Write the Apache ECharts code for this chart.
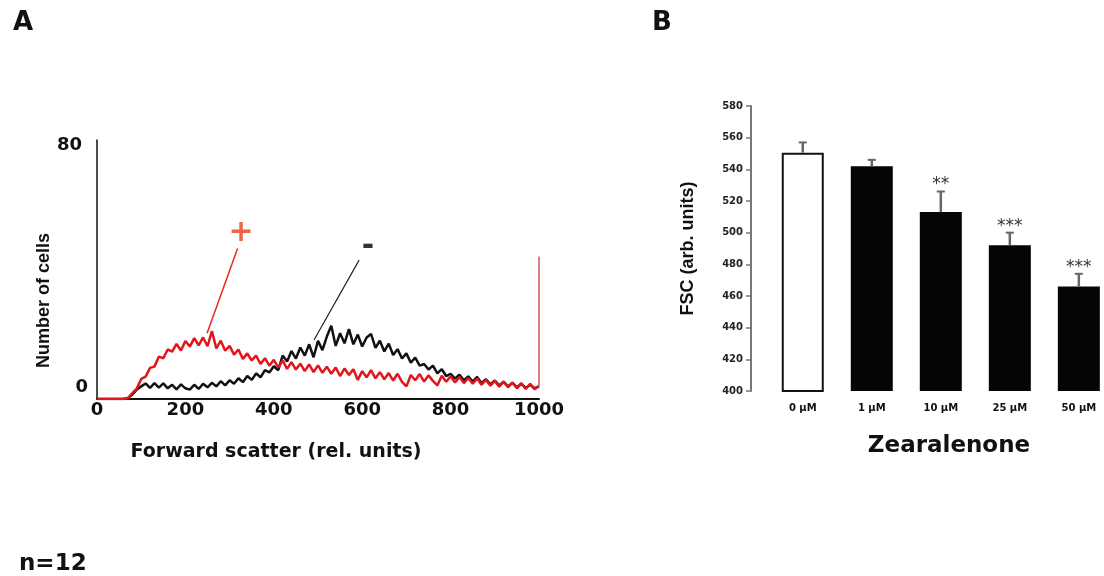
<!DOCTYPE html>
<html>
<head>
<meta charset="utf-8">
<script src="https://cdn.jsdelivr.net/npm/echarts@6/dist/echarts.min.js"></script>
<style>
  html, body { margin: 0; padding: 0; background: #fff; }
  #chart { width: 1104px; height: 576px; }
</style>
</head>
<body>
<div id="chart"></div>
<script>
// panel A: FSC histograms, channel step 10
var fscChannels = [
  0, 10, 20, 30, 40, 50, 60, 70, 80, 90,
  100, 110, 120, 130, 140, 150, 160, 170, 180, 190,
  200, 210, 220, 230, 240, 250, 260, 270, 280, 290,
  300, 310, 320, 330, 340, 350, 360, 370, 380, 390,
  400, 410, 420, 430, 440, 450, 460, 470, 480, 490,
  500, 510, 520, 530, 540, 550, 560, 570, 580, 590,
  600, 610, 620, 630, 640, 650, 660, 670, 680, 690,
  700, 710, 720, 730, 740, 750, 760, 770, 780, 790,
  800, 810, 820, 830, 840, 850, 860, 870, 880, 890,
  900, 910, 920, 930, 940, 950, 960, 970, 980, 990,
  1000
];
// untreated (-)
var cellsControl = [
  0, 0, 0, 0, 0, 0, 0, 0.3, 1.4, 2.9,
  3.9, 4.8, 3.4, 4.9, 3.5, 4.8, 3.3, 4.4, 3.0, 4.5,
  3.3, 2.9, 4.4, 3.1, 4.7, 3.6, 5.0, 3.9, 5.5, 4.2,
  5.8, 4.7, 6.4, 5.2, 7.1, 5.9, 7.9, 6.7, 8.9, 8.2,
  10.1, 8.9, 13.4, 11.6, 14.8, 12.5, 15.9, 13.4, 16.9, 12.9,
  18.0, 15.1, 19.3, 22.6, 16.4, 20.3, 17.2, 21.6, 16.9, 19.9,
  16.2, 19.0, 20.1, 15.8, 18.0, 14.7, 17.1, 13.6, 15.4, 12.5,
  14.1, 11.2, 12.8, 10.3, 10.8, 9.1, 10.3, 7.9, 9.2, 7.1,
  7.8, 6.3, 7.5, 5.8, 7.0, 5.4, 6.8, 4.9, 6.1, 4.5,
  5.7, 4.2, 5.3, 3.9, 5.0, 3.6, 4.7, 3.4, 4.4, 3.3,
  3.9
];
// zearalenone treated (+)
var cellsTreated = [
  0, 0, 0, 0, 0, 0, 0, 0.3, 1.8, 3.2,
  6.2, 6.9, 9.6, 10.0, 13.1, 12.6, 15.3, 14.6, 17.0, 15.0,
  17.9, 16.2, 18.8, 16.6, 19.0, 16.3, 21.0, 15.6, 18.0, 14.9,
  16.4, 13.7, 15.3, 12.4, 14.1, 11.9, 13.4, 10.8, 12.6, 10.3,
  12.1, 9.7, 11.9, 9.3, 11.4, 9.1, 10.9, 8.6, 10.7, 8.3,
  10.4, 8.1, 10.0, 7.8, 9.7, 7.1, 9.4, 7.4, 9.2, 5.9,
  8.6, 6.7, 8.9, 6.4, 8.3, 6.1, 8.0, 5.7, 7.8, 5.3,
  3.9, 7.4, 5.8, 7.7, 5.4, 7.3, 5.6, 4.2, 7.2, 5.3,
  7.0, 5.1, 6.8, 4.9, 6.5, 4.7, 6.3, 4.4, 5.9, 4.1,
  5.6, 3.8, 5.4, 3.6, 5.1, 3.3, 4.9, 3.1, 4.7, 3.0,
  4.0
];
var gateLine = [[1000, 4.0], [1000, 44]];
var plusPointer = [[249, 20.3], [318, 46.5]];
var minusPointer = [[491, 18.2], [593, 42.9]];
var plusMark = [326, 51.2];
var minusMark = [613, 47];
var histTicks = [0, 80];

// panel B: mean FSC
var concentrations = ['0 \u00b5M', '1 \u00b5M', '10 \u00b5M', '25 \u00b5M', '50 \u00b5M'];
var fscMean = [550.5, 542, 513, 492, 466];
var fscSem = [6.5, 4, 13, 8, 8];
var significance = ['', '', '**', '***', '***'];
var barSlots = [0, 1, 2, 3, 4];

var chart = echarts.init(document.getElementById('chart'));

function pairs(xs, ys) {
  return xs.map(function (x, i) { return [x, ys[i]]; });
}

var bold = 'DejaVu Sans';

chart.setOption({
  backgroundColor: '#fff',
  animation: false,
  title: [
    { text: 'A', left: 8, top: 5, textStyle: { fontFamily: bold, fontWeight: 'bold', fontSize: 26, color: '#111' } },
    { text: 'B', left: 647, top: 5, textStyle: { fontFamily: bold, fontWeight: 'bold', fontSize: 26, color: '#111' } },
    { text: 'n=12', left: 14, top: 548, textStyle: { fontFamily: bold, fontWeight: 'bold', fontSize: 23, color: '#111' } }
  ],
  grid: [
    { left: 97, top: 140, width: 442, height: 259 },
    { left: 751, top: 106, width: 352, height: 285 }
  ],
  xAxis: [
    {
      gridIndex: 0, type: 'value', min: 0, max: 1000, interval: 200,
      name: 'Forward scatter (rel. units)', nameLocation: 'middle', nameGap: 44,
      nameTextStyle: { fontFamily: bold, fontWeight: 'bold', fontSize: 19, color: '#111', padding: [0, 84, 0, 0] },
      axisLine: { lineStyle: { color: '#111', width: 2 } },
      axisTick: { show: false },
      splitLine: { show: false },
      axisLabel: {
        margin: 2, fontFamily: bold, fontWeight: 'bold', fontSize: 18, color: '#111',
        formatter: function (v) { return String(v); }
      }
    },
    {
      gridIndex: 1, type: 'value', min: -0.75, max: 4.35,
      name: 'Zearalenone', nameLocation: 'middle', nameGap: 44,
      nameTextStyle: { fontFamily: bold, fontWeight: 'bold', fontSize: 23, color: '#111', padding: [0, 0, 0, 44] },
      axisLine: { show: false },
      axisTick: { show: false },
      splitLine: { show: false },
      axisLabel: {
        customValues: barSlots, margin: 12, fontFamily: bold, fontWeight: 'bold', fontSize: 10, color: '#111',
        formatter: function (v) { return concentrations[Math.round(v)]; }
      }
    }
  ],
  yAxis: [
    {
      gridIndex: 0, type: 'value', min: 0, max: 80,
      name: 'Number of cells', nameLocation: 'middle', nameGap: 37,
      nameTextStyle: { fontFamily: 'Liberation Sans', fontWeight: 'bold', fontSize: 18, color: '#111', padding: [0, 62, 0, 0] },
      axisLine: { lineStyle: { color: '#111', width: 1.5 } },
      axisTick: { show: false },
      splitLine: { show: false },
      axisLabel: {
        customValues: histTicks, margin: 9,
        formatter: function (v) { return v === 0 ? '{lo|0}' : '{hi|' + v + '}'; },
        rich: {
          lo: { fontFamily: bold, fontWeight: 'bold', fontSize: 18, color: '#111', padding: [0, 0, 24, 0] },
          hi: { fontFamily: bold, fontWeight: 'bold', fontSize: 18, color: '#111', padding: [10, 6, 0, 0] }
        }
      }
    },
    {
      gridIndex: 1, type: 'value', min: 400, max: 580, interval: 20,
      name: 'FSC (arb. units)', nameLocation: 'middle', nameGap: 54,
      nameTextStyle: { fontFamily: 'Liberation Sans', fontWeight: 'bold', fontSize: 18, color: '#111' },
      axisLine: { show: true, onZero: false, lineStyle: { color: '#777', width: 2 } },
      axisTick: { show: true, length: 5, lineStyle: { color: '#777', width: 1.5 } },
      splitLine: { show: false },
      axisLabel: { margin: 8, fontFamily: bold, fontWeight: 'bold', fontSize: 10, color: '#222' }
    }
  ],
  series: [
    {
      name: '-', type: 'line', xAxisIndex: 0, yAxisIndex: 0,
      data: pairs(fscChannels, cellsControl), showSymbol: false,
      lineStyle: { color: '#111', width: 2.5 }, z: 2
    },
    {
      name: '+', type: 'line', xAxisIndex: 0, yAxisIndex: 0,
      data: pairs(fscChannels, cellsTreated), showSymbol: false,
      lineStyle: { color: '#e3141b', width: 2.5 }, z: 3
    },
    {
      type: 'line', xAxisIndex: 0, yAxisIndex: 0, data: gateLine, showSymbol: false,
      lineStyle: { color: '#d0505c', width: 1.5 }, z: 3
    },
    {
      type: 'line', xAxisIndex: 0, yAxisIndex: 0, data: plusPointer, showSymbol: false,
      lineStyle: { color: '#e8281c', width: 1.5 }, z: 4
    },
    {
      type: 'line', xAxisIndex: 0, yAxisIndex: 0, data: minusPointer, showSymbol: false,
      lineStyle: { color: '#222', width: 1.2 }, z: 4
    },
    {
      type: 'scatter', xAxisIndex: 0, yAxisIndex: 0, symbolSize: 0, z: 5,
      data: [
        { value: plusMark, label: { formatter: '+', color: '#e8401c', fontSize: 30 } },
        { value: minusMark, label: { formatter: '-', color: '#000', fontSize: 30 } }
      ],
      label: { show: true, position: 'inside', fontFamily: bold, fontWeight: 'bold' }
    },
    {
      type: 'bar', xAxisIndex: 1, yAxisIndex: 1, barWidth: 42,
      data: fscMean.map(function (v, i) {
        return i === 0
          ? { value: [barSlots[i], v], itemStyle: { color: '#fff', borderColor: '#111', borderWidth: 2 } }
          : { value: [barSlots[i], v], itemStyle: { color: '#050505' } };
      })
    },
    {
      type: 'custom', xAxisIndex: 1, yAxisIndex: 1, z: 5,
      data: fscMean.map(function (v, i) { return [barSlots[i], v, v + fscSem[i]]; }),
      renderItem: function (params, api) {
        var base = api.coord([api.value(0), api.value(1)]);
        var top = api.coord([api.value(0), api.value(2)]);
        var stars = significance[params.dataIndex];
        var kids = [
          { type: 'line', shape: { x1: top[0], y1: base[1], x2: top[0], y2: top[1] }, style: { stroke: '#666', lineWidth: 2.5 } },
          { type: 'line', shape: { x1: top[0] - 4, y1: top[1], x2: top[0] + 4, y2: top[1] }, style: { stroke: '#666', lineWidth: 2 } }
        ];
        if (stars) {
          kids.push({
            type: 'text',
            style: { text: stars, x: top[0], y: top[1] - 15, align: 'center', verticalAlign: 'top', font: '17px DejaVu Sans', fill: '#333' }
          });
        }
        return { type: 'group', children: kids };
      }
    }
  ]
});
</script>
</body>
</html>
